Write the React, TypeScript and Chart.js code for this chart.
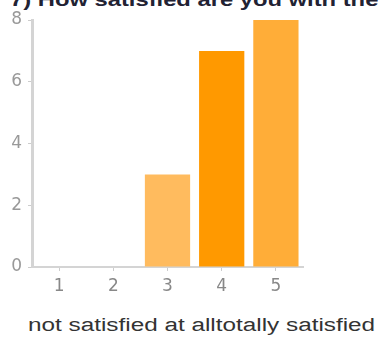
import React, { useEffect, useRef } from "react";
import { Chart, registerables } from "chart.js";

Chart.register(...registerables);

const categories = ["1", "2", "3", "4", "5"];
const responses = [0, 0, 3, 7, 8];
const barColors = ["#FFBB5E", "#FFBB5E", "#FFBB5E", "#FF9900", "#FFAD38"];
const yTicks = [0, 2, 4, 6, 8];
const titleText = "7) How satisfied are you with the overall course?";
const scaleLabel = "not satisfied at alltotally satisfied";

const FONT = "'Liberation Sans', Arial, sans-serif";
const TICK_FONT = "'DejaVu Sans', sans-serif";

export default function App() {
  const canvasRef = useRef<HTMLCanvasElement | null>(null);

  useEffect(() => {
    if (!canvasRef.current) return;
    const chart = new Chart(canvasRef.current, {
      type: "bar",
      data: {
        labels: categories,
        datasets: [
          {
            data: responses,
            backgroundColor: barColors,
            borderWidth: 0,
            barPercentage: 0.835,
            categoryPercentage: 1,
          },
        ],
      },
      options: {
        animation: false,
        responsive: false,
        maintainAspectRatio: false,
        layout: { padding: { top: 20, right: 77, bottom: 0, left: 0 } },
        plugins: {
          legend: { display: false },
          tooltip: { enabled: false },
          title: { display: false },
        },
        scales: {
          x: {
            grid: {
              display: true,
              drawOnChartArea: false,
              drawTicks: true,
              tickLength: 4,
              color: "#cccccc",
              offset: false,
            },
            border: { display: true, color: "#d4d4d4", width: 2 },
            ticks: {
              color: "#888888",
              font: { family: TICK_FONT, size: 17 },
              padding: 5,
            },
            afterFit: (scale: any) => {
              scale.height = 33;
            },
          },
          y: {
            min: 0,
            max: 8,
            afterBuildTicks: (scale: any) => {
              scale.ticks = yTicks.map((v) => ({ value: v }));
            },
            grid: {
              display: true,
              drawOnChartArea: false,
              drawTicks: true,
              tickLength: 4,
              color: "#cccccc",
            },
            border: { display: true, color: "#d4d4d4", width: 3 },
            ticks: {
              color: "#999999",
              font: { family: TICK_FONT, size: 17 },
              padding: 6,
            },
            afterFit: (scale: any) => {
              scale.width = 32;
            },
          },
        },
      },
    });
    return () => chart.destroy();
  }, []);

  return (
    <div
      style={{
        position: "absolute",
        left: 0,
        top: 0,
        width: 380,
        height: 337,
        overflow: "hidden",
        background: "#ffffff",
      }}
    >
      <div
        style={{
          position: "absolute",
          left: 10,
          top: -10,
          whiteSpace: "nowrap",
          fontFamily: FONT,
          fontWeight: "bold",
          fontSize: 18,
          color: "#222233",
          transform: "scaleX(1.32)",
          transformOrigin: "0 0",
        }}
      >
        {titleText}
      </div>
      <canvas
        ref={canvasRef}
        width={380}
        height={300}
        style={{ position: "absolute", left: 0, top: 0, width: 380, height: 300 }}
      />
      <div
        style={{
          position: "absolute",
          left: 28,
          top: 315,
          whiteSpace: "nowrap",
          fontFamily: FONT,
          fontSize: 18,
          color: "#333333",
          transform: "scaleX(1.35)",
          transformOrigin: "0 0",
        }}
      >
        {scaleLabel}
      </div>
    </div>
  );
}
